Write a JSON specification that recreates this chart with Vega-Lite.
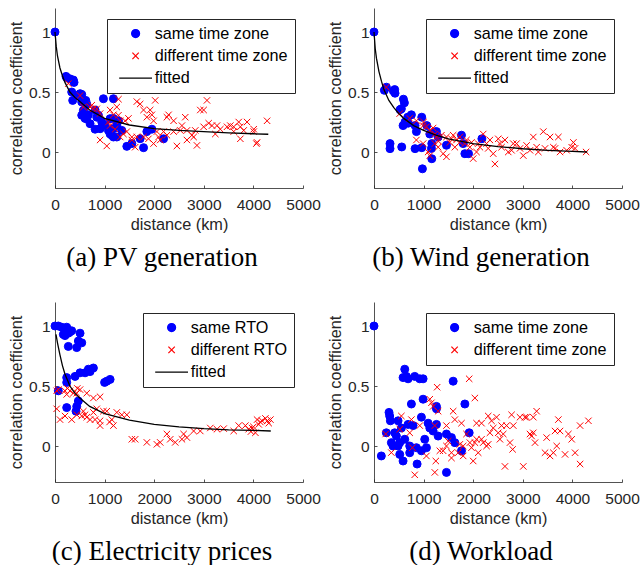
{
"$schema": "https://vega.github.io/schema/vega-lite/v6.json",
"background": "white",
"padding": {"left": 8, "top": 8, "right": 0, "bottom": 0},
"datasets": {
"a": [
{"x":0,"y":1.0,"s":"same time zone"},{"x":222,"y":0.63,"s":"same time zone"},{"x":236,"y":0.62,"s":"same time zone"},{"x":300,"y":0.61,"s":"same time zone"},{"x":370,"y":0.6,"s":"same time zone"},{"x":384,"y":0.58,"s":"same time zone"},{"x":337,"y":0.5,"s":"same time zone"},{"x":357,"y":0.43,"s":"same time zone"},{"x":438,"y":0.47,"s":"same time zone"},{"x":505,"y":0.486,"s":"same time zone"},{"x":539,"y":0.48,"s":"same time zone"},{"x":539,"y":0.417,"s":"same time zone"},{"x":620,"y":0.43,"s":"same time zone"},{"x":640,"y":0.4,"s":"same time zone"},{"x":572,"y":0.347,"s":"same time zone"},{"x":539,"y":0.306,"s":"same time zone"},{"x":606,"y":0.28,"s":"same time zone"},{"x":640,"y":0.278,"s":"same time zone"},{"x":673,"y":0.31,"s":"same time zone"},{"x":707,"y":0.236,"s":"same time zone"},{"x":808,"y":0.35,"s":"same time zone"},{"x":842,"y":0.29,"s":"same time zone"},{"x":875,"y":0.306,"s":"same time zone"},{"x":976,"y":0.444,"s":"same time zone"},{"x":1178,"y":0.444,"s":"same time zone"},{"x":943,"y":0.25,"s":"same time zone"},{"x":909,"y":0.194,"s":"same time zone"},{"x":808,"y":0.19,"s":"same time zone"},{"x":1010,"y":0.222,"s":"same time zone"},{"x":1077,"y":0.18,"s":"same time zone"},{"x":1111,"y":0.15,"s":"same time zone"},{"x":1178,"y":0.194,"s":"same time zone"},{"x":1145,"y":0.139,"s":"same time zone"},{"x":1178,"y":0.125,"s":"same time zone"},{"x":1246,"y":0.222,"s":"same time zone"},{"x":1280,"y":0.26,"s":"same time zone"},{"x":1178,"y":0.28,"s":"same time zone"},{"x":1111,"y":0.278,"s":"same time zone"},{"x":1246,"y":0.125,"s":"same time zone"},{"x":1347,"y":0.18,"s":"same time zone"},{"x":1448,"y":0.047,"s":"same time zone"},{"x":1549,"y":0.07,"s":"same time zone"},{"x":1717,"y":0.111,"s":"same time zone"},{"x":1785,"y":0.036,"s":"same time zone"},{"x":1852,"y":0.17,"s":"same time zone"},{"x":1953,"y":0.19,"s":"same time zone"},{"x":2189,"y":0.11,"s":"same time zone"},
{"x":269,"y":0.57,"s":"different time zone"},{"x":505,"y":0.47,"s":"different time zone"},{"x":572,"y":0.375,"s":"different time zone"},{"x":707,"y":0.375,"s":"different time zone"},{"x":741,"y":0.39,"s":"different time zone"},{"x":774,"y":0.36,"s":"different time zone"},{"x":842,"y":0.36,"s":"different time zone"},{"x":909,"y":0.32,"s":"different time zone"},{"x":909,"y":0.1,"s":"different time zone"},{"x":1044,"y":0.05,"s":"different time zone"},{"x":1077,"y":0.25,"s":"different time zone"},{"x":1111,"y":0.35,"s":"different time zone"},{"x":1178,"y":0.31,"s":"different time zone"},{"x":1246,"y":0.375,"s":"different time zone"},{"x":1279,"y":0.306,"s":"different time zone"},{"x":1280,"y":0.44,"s":"different time zone"},{"x":1313,"y":0.26,"s":"different time zone"},{"x":1414,"y":0.26,"s":"different time zone"},{"x":1481,"y":0.28,"s":"different time zone"},{"x":1380,"y":0.15,"s":"different time zone"},{"x":1549,"y":0.125,"s":"different time zone"},{"x":1616,"y":0.04,"s":"different time zone"},{"x":1650,"y":0.42,"s":"different time zone"},{"x":1717,"y":0.4,"s":"different time zone"},{"x":1785,"y":0.35,"s":"different time zone"},{"x":1852,"y":0.29,"s":"different time zone"},{"x":1919,"y":0.35,"s":"different time zone"},{"x":1953,"y":0.31,"s":"different time zone"},{"x":2020,"y":0.43,"s":"different time zone"},{"x":1987,"y":0.26,"s":"different time zone"},{"x":2054,"y":0.17,"s":"different time zone"},{"x":2121,"y":0.1,"s":"different time zone"},{"x":2189,"y":0.17,"s":"different time zone"},{"x":2256,"y":0.29,"s":"different time zone"},{"x":2290,"y":0.31,"s":"different time zone"},{"x":2391,"y":0.26,"s":"different time zone"},{"x":2458,"y":0.05,"s":"different time zone"},{"x":2525,"y":0.18,"s":"different time zone"},{"x":2559,"y":0.22,"s":"different time zone"},{"x":2626,"y":0.29,"s":"different time zone"},{"x":2660,"y":0.1,"s":"different time zone"},{"x":2761,"y":0.14,"s":"different time zone"},{"x":2828,"y":0.18,"s":"different time zone"},{"x":2862,"y":0.055,"s":"different time zone"},{"x":2929,"y":0.35,"s":"different time zone"},{"x":2997,"y":0.35,"s":"different time zone"},{"x":3064,"y":0.43,"s":"different time zone"},{"x":3098,"y":0.24,"s":"different time zone"},{"x":3165,"y":0.22,"s":"different time zone"},{"x":3232,"y":0.15,"s":"different time zone"},{"x":3333,"y":0.19,"s":"different time zone"},{"x":3468,"y":0.21,"s":"different time zone"},{"x":3535,"y":0.22,"s":"different time zone"},{"x":3603,"y":0.21,"s":"different time zone"},{"x":3704,"y":0.25,"s":"different time zone"},{"x":3737,"y":0.21,"s":"different time zone"},{"x":3737,"y":0.11,"s":"different time zone"},{"x":3872,"y":0.25,"s":"different time zone"},{"x":4007,"y":0.19,"s":"different time zone"},{"x":4074,"y":0.08,"s":"different time zone"},{"x":4060,"y":0.07,"s":"different time zone"},{"x":4276,"y":0.26,"s":"different time zone"},{"x":1111,"y":0.22,"s":"different time zone"},{"x":1212,"y":0.19,"s":"different time zone"},{"x":1313,"y":0.125,"s":"different time zone"},{"x":1448,"y":0.17,"s":"different time zone"},{"x":1549,"y":0.1,"s":"different time zone"},{"x":1650,"y":0.125,"s":"different time zone"},{"x":1785,"y":0.125,"s":"different time zone"},{"x":1885,"y":0.11,"s":"different time zone"},{"x":1987,"y":0.07,"s":"different time zone"},{"x":2088,"y":0.125,"s":"different time zone"},{"x":2256,"y":0.14,"s":"different time zone"},{"x":2391,"y":0.17,"s":"different time zone"},{"x":2660,"y":0.18,"s":"different time zone"},{"x":2795,"y":0.125,"s":"different time zone"},{"x":2997,"y":0.21,"s":"different time zone"},{"x":3266,"y":0.22,"s":"different time zone"},{"x":3603,"y":0.17,"s":"different time zone"},{"x":3805,"y":0.18,"s":"different time zone"},{"x":4007,"y":0.17,"s":"different time zone"}
],
"fa": [
{"x":0,"y":1.0},{"x":25,"y":0.88},{"x":50,"y":0.8},{"x":100,"y":0.7},{"x":150,"y":0.635},{"x":200,"y":0.58},{"x":300,"y":0.5},{"x":400,"y":0.455},{"x":500,"y":0.42},{"x":700,"y":0.35},{"x":1000,"y":0.28},{"x":1500,"y":0.225},{"x":2000,"y":0.195},{"x":2500,"y":0.18},{"x":3000,"y":0.17},{"x":3500,"y":0.16},{"x":4000,"y":0.152},{"x":4300,"y":0.148}
],
"b": [
{"x":0,"y":1.0,"s":"same time zone"},{"x":209,"y":0.514,"s":"same time zone"},{"x":249,"y":0.54,"s":"same time zone"},{"x":391,"y":0.508,"s":"same time zone"},{"x":424,"y":0.49,"s":"same time zone"},{"x":417,"y":0.52,"s":"same time zone"},{"x":593,"y":0.44,"s":"same time zone"},{"x":613,"y":0.41,"s":"same time zone"},{"x":525,"y":0.353,"s":"same time zone"},{"x":552,"y":0.36,"s":"same time zone"},{"x":626,"y":0.25,"s":"same time zone"},{"x":586,"y":0.22,"s":"same time zone"},{"x":680,"y":0.29,"s":"same time zone"},{"x":687,"y":0.24,"s":"same time zone"},{"x":754,"y":0.31,"s":"same time zone"},{"x":963,"y":0.29,"s":"same time zone"},{"x":828,"y":0.22,"s":"same time zone"},{"x":855,"y":0.17,"s":"same time zone"},{"x":1064,"y":0.22,"s":"same time zone"},{"x":323,"y":0.07,"s":"same time zone"},{"x":323,"y":0.028,"s":"same time zone"},{"x":559,"y":0.042,"s":"same time zone"},{"x":828,"y":0.028,"s":"same time zone"},{"x":963,"y":0.036,"s":"same time zone"},{"x":1165,"y":-0.056,"s":"same time zone"},{"x":976,"y":-0.14,"s":"same time zone"},{"x":1125,"y":0.15,"s":"same time zone"},{"x":1165,"y":0.07,"s":"same time zone"},{"x":1232,"y":0.167,"s":"same time zone"},{"x":1293,"y":0.125,"s":"same time zone"},{"x":1461,"y":0.056,"s":"same time zone"},{"x":1764,"y":0.14,"s":"same time zone"},{"x":1798,"y":0.07,"s":"same time zone"},{"x":1832,"y":-0.014,"s":"same time zone"},{"x":1906,"y":-0.014,"s":"same time zone"},{"x":2175,"y":0.11,"s":"same time zone"},{"x":1158,"y":0.03,"s":"same time zone"},{"x":1259,"y":0.17,"s":"same time zone"},
{"x":249,"y":0.54,"s":"different time zone"},{"x":518,"y":0.32,"s":"different time zone"},{"x":720,"y":0.28,"s":"different time zone"},{"x":855,"y":0.26,"s":"different time zone"},{"x":990,"y":0.22,"s":"different time zone"},{"x":1057,"y":0.21,"s":"different time zone"},{"x":1125,"y":0.18,"s":"different time zone"},{"x":1226,"y":0.15,"s":"different time zone"},{"x":855,"y":0.1,"s":"different time zone"},{"x":990,"y":0.07,"s":"different time zone"},{"x":1091,"y":0.0,"s":"different time zone"},{"x":1125,"y":-0.03,"s":"different time zone"},{"x":1226,"y":0.07,"s":"different time zone"},{"x":1293,"y":0.04,"s":"different time zone"},{"x":1394,"y":-0.014,"s":"different time zone"},{"x":1461,"y":-0.04,"s":"different time zone"},{"x":1562,"y":0.11,"s":"different time zone"},{"x":1596,"y":0.14,"s":"different time zone"},{"x":1663,"y":0.1,"s":"different time zone"},{"x":1731,"y":0.125,"s":"different time zone"},{"x":1832,"y":0.07,"s":"different time zone"},{"x":1933,"y":0.04,"s":"different time zone"},{"x":2000,"y":-0.055,"s":"different time zone"},{"x":2067,"y":0.0,"s":"different time zone"},{"x":2135,"y":0.04,"s":"different time zone"},{"x":2202,"y":0.15,"s":"different time zone"},{"x":2269,"y":0.07,"s":"different time zone"},{"x":2337,"y":0.1,"s":"different time zone"},{"x":2404,"y":-0.014,"s":"different time zone"},{"x":2438,"y":-0.1,"s":"different time zone"},{"x":2505,"y":0.11,"s":"different time zone"},{"x":2572,"y":0.04,"s":"different time zone"},{"x":2640,"y":0.1,"s":"different time zone"},{"x":2707,"y":0.0,"s":"different time zone"},{"x":2808,"y":0.07,"s":"different time zone"},{"x":2875,"y":0.07,"s":"different time zone"},{"x":2943,"y":0.03,"s":"different time zone"},{"x":3010,"y":-0.03,"s":"different time zone"},{"x":3077,"y":0.055,"s":"different time zone"},{"x":3145,"y":0.014,"s":"different time zone"},{"x":3212,"y":0.125,"s":"different time zone"},{"x":3313,"y":0.0,"s":"different time zone"},{"x":3414,"y":0.17,"s":"different time zone"},{"x":3448,"y":0.03,"s":"different time zone"},{"x":3549,"y":0.125,"s":"different time zone"},{"x":3616,"y":0.04,"s":"different time zone"},{"x":3717,"y":0.125,"s":"different time zone"},{"x":3751,"y":0.0,"s":"different time zone"},{"x":3885,"y":0.014,"s":"different time zone"},{"x":3986,"y":0.04,"s":"different time zone"},{"x":4020,"y":0.08,"s":"different time zone"},{"x":4054,"y":0.03,"s":"different time zone"},{"x":4276,"y":0.0,"s":"different time zone"},{"x":1259,"y":0.125,"s":"different time zone"},{"x":1360,"y":0.14,"s":"different time zone"},{"x":1461,"y":0.125,"s":"different time zone"},{"x":1529,"y":0.08,"s":"different time zone"},{"x":1630,"y":0.04,"s":"different time zone"},{"x":1731,"y":0.08,"s":"different time zone"},{"x":1865,"y":0.1,"s":"different time zone"},{"x":1966,"y":0.08,"s":"different time zone"},{"x":2101,"y":0.07,"s":"different time zone"},{"x":2303,"y":0.03,"s":"different time zone"},{"x":2539,"y":0.07,"s":"different time zone"},{"x":2774,"y":0.014,"s":"different time zone"},{"x":3279,"y":0.04,"s":"different time zone"},{"x":3650,"y":0.03,"s":"different time zone"},{"x":1192,"y":0.2,"s":"different time zone"},{"x":1000,"y":0.25,"s":"different time zone"},{"x":1300,"y":0.09,"s":"different time zone"}
],
"fb": [
{"x":0,"y":1.0},{"x":25,"y":0.86},{"x":50,"y":0.78},{"x":100,"y":0.67},{"x":150,"y":0.59},{"x":200,"y":0.52},{"x":300,"y":0.43},{"x":400,"y":0.37},{"x":500,"y":0.32},{"x":600,"y":0.28},{"x":800,"y":0.22},{"x":1000,"y":0.18},{"x":1250,"y":0.14},{"x":1500,"y":0.11},{"x":2000,"y":0.07},{"x":2500,"y":0.045},{"x":3000,"y":0.027},{"x":3500,"y":0.014},{"x":4000,"y":0.005},{"x":4300,"y":0.0}
],
"c": [
{"x":0,"y":1.0,"s":"same RTO"},{"x":67,"y":1.0,"s":"same RTO"},{"x":135,"y":0.99,"s":"same RTO"},{"x":202,"y":0.97,"s":"same RTO"},{"x":236,"y":0.99,"s":"same RTO"},{"x":168,"y":0.93,"s":"same RTO"},{"x":269,"y":0.94,"s":"same RTO"},{"x":337,"y":0.96,"s":"same RTO"},{"x":202,"y":0.92,"s":"same RTO"},{"x":300,"y":0.95,"s":"same RTO"},{"x":505,"y":0.94,"s":"same RTO"},{"x":471,"y":0.875,"s":"same RTO"},{"x":539,"y":0.86,"s":"same RTO"},{"x":438,"y":0.82,"s":"same RTO"},{"x":269,"y":0.83,"s":"same RTO"},{"x":236,"y":0.57,"s":"same RTO"},{"x":236,"y":0.53,"s":"same RTO"},{"x":404,"y":0.58,"s":"same RTO"},{"x":505,"y":0.61,"s":"same RTO"},{"x":606,"y":0.61,"s":"same RTO"},{"x":673,"y":0.64,"s":"same RTO"},{"x":774,"y":0.65,"s":"same RTO"},{"x":707,"y":0.62,"s":"same RTO"},{"x":1000,"y":0.53,"s":"same RTO"},{"x":1044,"y":0.54,"s":"same RTO"},{"x":1111,"y":0.555,"s":"same RTO"},{"x":67,"y":0.46,"s":"same RTO"},{"x":236,"y":0.32,"s":"same RTO"},{"x":438,"y":0.33,"s":"same RTO"},{"x":471,"y":0.375,"s":"same RTO"},{"x":424,"y":0.29,"s":"same RTO"},
{"x":34,"y":0.46,"s":"different RTO"},{"x":34,"y":0.31,"s":"different RTO"},{"x":101,"y":0.22,"s":"different RTO"},{"x":202,"y":0.25,"s":"different RTO"},{"x":303,"y":0.46,"s":"different RTO"},{"x":370,"y":0.44,"s":"different RTO"},{"x":505,"y":0.47,"s":"different RTO"},{"x":640,"y":0.44,"s":"different RTO"},{"x":774,"y":0.4,"s":"different RTO"},{"x":909,"y":0.41,"s":"different RTO"},{"x":337,"y":0.22,"s":"different RTO"},{"x":438,"y":0.26,"s":"different RTO"},{"x":539,"y":0.25,"s":"different RTO"},{"x":640,"y":0.24,"s":"different RTO"},{"x":774,"y":0.28,"s":"different RTO"},{"x":808,"y":0.22,"s":"different RTO"},{"x":909,"y":0.21,"s":"different RTO"},{"x":976,"y":0.29,"s":"different RTO"},{"x":1044,"y":0.29,"s":"different RTO"},{"x":1145,"y":0.22,"s":"different RTO"},{"x":1178,"y":0.17,"s":"different RTO"},{"x":1246,"y":0.28,"s":"different RTO"},{"x":1347,"y":0.26,"s":"different RTO"},{"x":1448,"y":0.26,"s":"different RTO"},{"x":1549,"y":0.056,"s":"different RTO"},{"x":1616,"y":0.056,"s":"different RTO"},{"x":1852,"y":0.03,"s":"different RTO"},{"x":2054,"y":0.014,"s":"different RTO"},{"x":2121,"y":0.03,"s":"different RTO"},{"x":2256,"y":0.1,"s":"different RTO"},{"x":2323,"y":0.056,"s":"different RTO"},{"x":2424,"y":0.03,"s":"different RTO"},{"x":2559,"y":0.056,"s":"different RTO"},{"x":2593,"y":0.1,"s":"different RTO"},{"x":2660,"y":0.07,"s":"different RTO"},{"x":2795,"y":0.125,"s":"different RTO"},{"x":2929,"y":0.125,"s":"different RTO"},{"x":3131,"y":0.15,"s":"different RTO"},{"x":3266,"y":0.14,"s":"different RTO"},{"x":3401,"y":0.145,"s":"different RTO"},{"x":3603,"y":0.125,"s":"different RTO"},{"x":3704,"y":0.17,"s":"different RTO"},{"x":3838,"y":0.17,"s":"different RTO"},{"x":3905,"y":0.14,"s":"different RTO"},{"x":3973,"y":0.15,"s":"different RTO"},{"x":4040,"y":0.11,"s":"different RTO"},{"x":4074,"y":0.22,"s":"different RTO"},{"x":4108,"y":0.18,"s":"different RTO"},{"x":4175,"y":0.21,"s":"different RTO"},{"x":4242,"y":0.23,"s":"different RTO"},{"x":4310,"y":0.19,"s":"different RTO"},{"x":4343,"y":0.22,"s":"different RTO"},{"x":67,"y":0.47,"s":"different RTO"},{"x":236,"y":0.43,"s":"different RTO"},{"x":438,"y":0.44,"s":"different RTO"},{"x":572,"y":0.29,"s":"different RTO"},{"x":606,"y":0.26,"s":"different RTO"},{"x":707,"y":0.22,"s":"different RTO"},{"x":842,"y":0.31,"s":"different RTO"},{"x":909,"y":0.17,"s":"different RTO"},{"x":4000,"y":0.16,"s":"different RTO"},{"x":4140,"y":0.2,"s":"different RTO"},{"x":4280,"y":0.21,"s":"different RTO"},{"x":3950,"y":0.12,"s":"different RTO"},{"x":1100,"y":0.2,"s":"different RTO"},{"x":200,"y":0.46,"s":"different RTO"},{"x":250,"y":0.48,"s":"different RTO"},{"x":450,"y":0.48,"s":"different RTO"}
],
"fc": [
{"x":20,"y":0.93},{"x":50,"y":0.86},{"x":100,"y":0.76},{"x":150,"y":0.67},{"x":200,"y":0.6},{"x":300,"y":0.5},{"x":400,"y":0.44},{"x":500,"y":0.4},{"x":700,"y":0.33},{"x":1000,"y":0.27},{"x":1500,"y":0.215},{"x":2000,"y":0.18},{"x":2500,"y":0.16},{"x":3000,"y":0.145},{"x":3500,"y":0.135},{"x":4000,"y":0.13},{"x":4350,"y":0.125}
],
"d": [
{"x":0,"y":1.0,"s":"same time zone"},{"x":148,"y":-0.083,"s":"same time zone"},{"x":249,"y":0.11,"s":"same time zone"},{"x":303,"y":0.28,"s":"same time zone"},{"x":316,"y":0.25,"s":"same time zone"},{"x":330,"y":0.21,"s":"same time zone"},{"x":350,"y":0.028,"s":"same time zone"},{"x":384,"y":0.0,"s":"same time zone"},{"x":451,"y":0.083,"s":"same time zone"},{"x":485,"y":0.21,"s":"same time zone"},{"x":485,"y":0.0,"s":"same time zone"},{"x":519,"y":-0.07,"s":"same time zone"},{"x":552,"y":0.15,"s":"same time zone"},{"x":586,"y":-0.125,"s":"same time zone"},{"x":620,"y":0.056,"s":"same time zone"},{"x":620,"y":0.64,"s":"same time zone"},{"x":654,"y":0.58,"s":"same time zone"},{"x":687,"y":0.56,"s":"same time zone"},{"x":586,"y":0.57,"s":"same time zone"},{"x":687,"y":0.18,"s":"same time zone"},{"x":720,"y":-0.056,"s":"same time zone"},{"x":754,"y":0.35,"s":"same time zone"},{"x":788,"y":0.17,"s":"same time zone"},{"x":821,"y":0.58,"s":"same time zone"},{"x":869,"y":-0.15,"s":"same time zone"},{"x":923,"y":0.56,"s":"same time zone"},{"x":990,"y":0.56,"s":"same time zone"},{"x":956,"y":0.24,"s":"same time zone"},{"x":956,"y":-0.04,"s":"same time zone"},{"x":990,"y":0.39,"s":"same time zone"},{"x":1023,"y":0.056,"s":"same time zone"},{"x":1091,"y":0.19,"s":"same time zone"},{"x":1125,"y":0.15,"s":"same time zone"},{"x":1192,"y":0.125,"s":"same time zone"},{"x":1259,"y":0.31,"s":"same time zone"},{"x":1259,"y":0.18,"s":"same time zone"},{"x":1293,"y":0.083,"s":"same time zone"},{"x":1259,"y":0.33,"s":"same time zone"},{"x":1461,"y":0.1,"s":"same time zone"},{"x":1461,"y":-0.22,"s":"same time zone"},{"x":1562,"y":0.07,"s":"same time zone"},{"x":1596,"y":0.54,"s":"same time zone"},{"x":1630,"y":0.028,"s":"same time zone"},{"x":1764,"y":-0.04,"s":"same time zone"},{"x":1832,"y":0.35,"s":"same time zone"},{"x":1919,"y":0.11,"s":"same time zone"},{"x":720,"y":0.0,"s":"same time zone"},{"x":855,"y":-0.014,"s":"same time zone"},{"x":1057,"y":-0.014,"s":"same time zone"},{"x":519,"y":0.028,"s":"same time zone"},{"x":417,"y":0.11,"s":"same time zone"},
{"x":236,"y":0.1,"s":"different time zone"},{"x":350,"y":-0.055,"s":"different time zone"},{"x":552,"y":0.25,"s":"different time zone"},{"x":519,"y":0.14,"s":"different time zone"},{"x":720,"y":0.11,"s":"different time zone"},{"x":754,"y":0.22,"s":"different time zone"},{"x":774,"y":-0.014,"s":"different time zone"},{"x":821,"y":-0.24,"s":"different time zone"},{"x":923,"y":0.17,"s":"different time zone"},{"x":1057,"y":-0.083,"s":"different time zone"},{"x":1125,"y":0.39,"s":"different time zone"},{"x":1158,"y":0.36,"s":"different time zone"},{"x":1192,"y":0.33,"s":"different time zone"},{"x":1226,"y":-0.22,"s":"different time zone"},{"x":1246,"y":-0.125,"s":"different time zone"},{"x":1273,"y":0.49,"s":"different time zone"},{"x":1293,"y":0.29,"s":"different time zone"},{"x":1226,"y":0.17,"s":"different time zone"},{"x":1327,"y":-0.04,"s":"different time zone"},{"x":1394,"y":-0.04,"s":"different time zone"},{"x":1461,"y":0.17,"s":"different time zone"},{"x":1495,"y":0.04,"s":"different time zone"},{"x":1562,"y":-0.1,"s":"different time zone"},{"x":1596,"y":0.29,"s":"different time zone"},{"x":1630,"y":0.22,"s":"different time zone"},{"x":1697,"y":-0.056,"s":"different time zone"},{"x":1764,"y":0.19,"s":"different time zone"},{"x":1798,"y":-0.083,"s":"different time zone"},{"x":1865,"y":0.1,"s":"different time zone"},{"x":1919,"y":0.56,"s":"different time zone"},{"x":1933,"y":0.028,"s":"different time zone"},{"x":2000,"y":-0.125,"s":"different time zone"},{"x":2034,"y":0.4,"s":"different time zone"},{"x":2067,"y":0.19,"s":"different time zone"},{"x":2067,"y":0.056,"s":"different time zone"},{"x":2101,"y":-0.056,"s":"different time zone"},{"x":2168,"y":0.19,"s":"different time zone"},{"x":2202,"y":0.028,"s":"different time zone"},{"x":2269,"y":0.0,"s":"different time zone"},{"x":2303,"y":0.25,"s":"different time zone"},{"x":2337,"y":0.11,"s":"different time zone"},{"x":2370,"y":0.21,"s":"different time zone"},{"x":2404,"y":0.15,"s":"different time zone"},{"x":2471,"y":0.24,"s":"different time zone"},{"x":2505,"y":0.11,"s":"different time zone"},{"x":2539,"y":0.056,"s":"different time zone"},{"x":2572,"y":0.17,"s":"different time zone"},{"x":2606,"y":0.1,"s":"different time zone"},{"x":2640,"y":-0.17,"s":"different time zone"},{"x":2673,"y":0.17,"s":"different time zone"},{"x":2741,"y":0.028,"s":"different time zone"},{"x":2774,"y":0.26,"s":"different time zone"},{"x":2808,"y":0.17,"s":"different time zone"},{"x":2795,"y":-0.028,"s":"different time zone"},{"x":2943,"y":0.24,"s":"different time zone"},{"x":3010,"y":-0.17,"s":"different time zone"},{"x":3044,"y":0.24,"s":"different time zone"},{"x":3077,"y":0.24,"s":"different time zone"},{"x":3145,"y":0.1,"s":"different time zone"},{"x":3178,"y":0.083,"s":"different time zone"},{"x":3212,"y":0.11,"s":"different time zone"},{"x":3246,"y":0.028,"s":"different time zone"},{"x":3279,"y":0.29,"s":"different time zone"},{"x":3212,"y":0.24,"s":"different time zone"},{"x":3481,"y":0.07,"s":"different time zone"},{"x":3448,"y":-0.056,"s":"different time zone"},{"x":3549,"y":-0.083,"s":"different time zone"},{"x":3616,"y":-0.056,"s":"different time zone"},{"x":3650,"y":0.125,"s":"different time zone"},{"x":3684,"y":0.0,"s":"different time zone"},{"x":3717,"y":0.22,"s":"different time zone"},{"x":3751,"y":0.125,"s":"different time zone"},{"x":3852,"y":-0.07,"s":"different time zone"},{"x":3919,"y":0.1,"s":"different time zone"},{"x":3986,"y":0.056,"s":"different time zone"},{"x":4054,"y":-0.056,"s":"different time zone"},{"x":4155,"y":-0.15,"s":"different time zone"},{"x":4155,"y":0.17,"s":"different time zone"},{"x":4323,"y":0.21,"s":"different time zone"},{"x":1461,"y":0.0,"s":"different time zone"},{"x":1731,"y":0.014,"s":"different time zone"},{"x":1798,"y":0.0,"s":"different time zone"},{"x":1966,"y":-0.014,"s":"different time zone"},{"x":2034,"y":0.028,"s":"different time zone"},{"x":2168,"y":0.056,"s":"different time zone"},{"x":2303,"y":0.014,"s":"different time zone"},{"x":1562,"y":-0.056,"s":"different time zone"}
]
},
"vconcat": [
{"hconcat": [
{"width": 248, "height": 180,
 "title": {"text": "(a) PV generation", "orient": "bottom", "anchor": "middle", "frame": "group", "dx": -17, "offset": 13},
 "layer": [
  {"data": {"name": "a"}, "mark": {"type": "point", "filled": false, "size": 64, "strokeWidth": 1, "opacity": 1},
   "encoding": {
    "x": {"field": "x", "type": "quantitative", "title": "distance (km)", "scale": {"domain": [0, 5000], "nice": false}, "axis": {"values": [0,1000,2000,3000,4000,5000], "format": "d", "labelOverlap": false, "labelFlush": false}},
    "y": {"field": "y", "type": "quantitative", "title": "correlation coefficient", "scale": {"domain": [-0.3, 1.2], "nice": false, "zero": false}, "axis": {"values": [0, 0.5, 1], "format": "~g", "labelOverlap": false, "labelFlush": false}},
    "stroke": {"field": "s", "type": "nominal", "scale": {"domain": ["same time zone", "different time zone", "fitted"], "range": ["#0000ff", "#ff0000", "#000000"]}, "legend": {"orient": "none", "legendX": 52, "legendY": 11, "title": null, "labelExpr": "datum.label + '\u00a0\u00a0'"}},
    "fill": {"field": "s", "type": "nominal", "scale": {"domain": ["same time zone", "different time zone", "fitted"], "range": ["#0000ff", "transparent", "transparent"]}, "legend": {"orient": "none", "legendX": 52, "legendY": 11, "title": null, "labelExpr": "datum.label + '\u00a0\u00a0'"}},
    "shape": {"field": "s", "type": "nominal", "scale": {"domain": ["same time zone", "different time zone", "fitted"], "range": ["circle", "M-0.8,-0.8L0.8,0.8M-0.8,0.8L0.8,-0.8", "M-4.1,0L4.1,0"]}, "legend": {"orient": "none", "legendX": 52, "legendY": 11, "title": null, "labelExpr": "datum.label + '\u00a0\u00a0'"}}
   }},
  {"data": {"name": "fa"}, "mark": {"type": "line", "color": "#000000", "strokeWidth": 1.3},
   "encoding": {"x": {"field": "x", "type": "quantitative"}, "y": {"field": "y", "type": "quantitative"}}}
 ]},
{"width": 248, "height": 180,
 "title": {"text": "(b) Wind generation", "orient": "bottom", "anchor": "middle", "frame": "group", "dx": -17, "offset": 13},
 "layer": [
  {"data": {"name": "b"}, "mark": {"type": "point", "filled": false, "size": 64, "strokeWidth": 1, "opacity": 1},
   "encoding": {
    "x": {"field": "x", "type": "quantitative", "title": "distance (km)", "scale": {"domain": [0, 5000], "nice": false}, "axis": {"values": [0,1000,2000,3000,4000,5000], "format": "d", "labelOverlap": false, "labelFlush": false}},
    "y": {"field": "y", "type": "quantitative", "title": "correlation coefficient", "scale": {"domain": [-0.3, 1.2], "nice": false, "zero": false}, "axis": {"values": [0, 0.5, 1], "format": "~g", "labelOverlap": false, "labelFlush": false}},
    "stroke": {"field": "s", "type": "nominal", "scale": {"domain": ["same time zone", "different time zone", "fitted"], "range": ["#0000ff", "#ff0000", "#000000"]}, "legend": {"orient": "none", "legendX": 52, "legendY": 11, "title": null, "labelExpr": "datum.label + '\u00a0\u00a0'"}},
    "fill": {"field": "s", "type": "nominal", "scale": {"domain": ["same time zone", "different time zone", "fitted"], "range": ["#0000ff", "transparent", "transparent"]}, "legend": {"orient": "none", "legendX": 52, "legendY": 11, "title": null, "labelExpr": "datum.label + '\u00a0\u00a0'"}},
    "shape": {"field": "s", "type": "nominal", "scale": {"domain": ["same time zone", "different time zone", "fitted"], "range": ["circle", "M-0.8,-0.8L0.8,0.8M-0.8,0.8L0.8,-0.8", "M-4.1,0L4.1,0"]}, "legend": {"orient": "none", "legendX": 52, "legendY": 11, "title": null, "labelExpr": "datum.label + '\u00a0\u00a0'"}}
   }},
  {"data": {"name": "fb"}, "mark": {"type": "line", "color": "#000000", "strokeWidth": 1.3},
   "encoding": {"x": {"field": "x", "type": "quantitative"}, "y": {"field": "y", "type": "quantitative"}}}
 ]}
], "spacing": 6,
 "resolve": {"scale": {"x": "independent", "y": "independent", "stroke": "independent", "fill": "independent", "shape": "independent"}, "legend": {"stroke": "independent", "fill": "independent", "shape": "independent"}}},
{"hconcat": [
{"width": 248, "height": 180,
 "title": {"text": "(c) Electricity prices", "orient": "bottom", "anchor": "middle", "frame": "group", "dx": -17, "offset": 13},
 "layer": [
  {"data": {"name": "c"}, "mark": {"type": "point", "filled": false, "size": 64, "strokeWidth": 1, "opacity": 1},
   "encoding": {
    "x": {"field": "x", "type": "quantitative", "title": "distance (km)", "scale": {"domain": [0, 5000], "nice": false}, "axis": {"values": [0,1000,2000,3000,4000,5000], "format": "d", "labelOverlap": false, "labelFlush": false}},
    "y": {"field": "y", "type": "quantitative", "title": "correlation coefficient", "scale": {"domain": [-0.3, 1.2], "nice": false, "zero": false}, "axis": {"values": [0, 0.5, 1], "format": "~g", "labelOverlap": false, "labelFlush": false}},
    "stroke": {"field": "s", "type": "nominal", "scale": {"domain": ["same RTO", "different RTO", "fitted"], "range": ["#0000ff", "#ff0000", "#000000"]}, "legend": {"orient": "none", "legendX": 88, "legendY": 11, "title": null, "labelExpr": "datum.label + '\u00a0\u00a0'"}},
    "fill": {"field": "s", "type": "nominal", "scale": {"domain": ["same RTO", "different RTO", "fitted"], "range": ["#0000ff", "transparent", "transparent"]}, "legend": {"orient": "none", "legendX": 88, "legendY": 11, "title": null, "labelExpr": "datum.label + '\u00a0\u00a0'"}},
    "shape": {"field": "s", "type": "nominal", "scale": {"domain": ["same RTO", "different RTO", "fitted"], "range": ["circle", "M-0.8,-0.8L0.8,0.8M-0.8,0.8L0.8,-0.8", "M-4.1,0L4.1,0"]}, "legend": {"orient": "none", "legendX": 88, "legendY": 11, "title": null, "labelExpr": "datum.label + '\u00a0\u00a0'"}}
   }},
  {"data": {"name": "fc"}, "mark": {"type": "line", "color": "#000000", "strokeWidth": 1.3},
   "encoding": {"x": {"field": "x", "type": "quantitative"}, "y": {"field": "y", "type": "quantitative"}}}
 ]},
{"width": 248, "height": 180,
 "title": {"text": "(d) Workload", "orient": "bottom", "anchor": "middle", "frame": "group", "dx": -17, "offset": 13},
 "layer": [
  {"data": {"name": "d"}, "mark": {"type": "point", "filled": false, "size": 64, "strokeWidth": 1, "opacity": 1},
   "encoding": {
    "x": {"field": "x", "type": "quantitative", "title": "distance (km)", "scale": {"domain": [0, 5000], "nice": false}, "axis": {"values": [0,1000,2000,3000,4000,5000], "format": "d", "labelOverlap": false, "labelFlush": false}},
    "y": {"field": "y", "type": "quantitative", "title": "correlation coefficient", "scale": {"domain": [-0.3, 1.2], "nice": false, "zero": false}, "axis": {"values": [0, 0.5, 1], "format": "~g", "labelOverlap": false, "labelFlush": false}},
    "stroke": {"field": "s", "type": "nominal", "scale": {"domain": ["same time zone", "different time zone"], "range": ["#0000ff", "#ff0000"]}, "legend": {"orient": "none", "legendX": 52, "legendY": 11, "title": null}},
    "fill": {"field": "s", "type": "nominal", "scale": {"domain": ["same time zone", "different time zone"], "range": ["#0000ff", "transparent"]}, "legend": {"orient": "none", "legendX": 52, "legendY": 11, "title": null}},
    "shape": {"field": "s", "type": "nominal", "scale": {"domain": ["same time zone", "different time zone"], "range": ["circle", "M-0.8,-0.8L0.8,0.8M-0.8,0.8L0.8,-0.8"]}, "legend": {"orient": "none", "legendX": 52, "legendY": 11, "title": null}}
   }}
 ]}
], "spacing": 6,
 "resolve": {"scale": {"x": "independent", "y": "independent", "stroke": "independent", "fill": "independent", "shape": "independent"}, "legend": {"stroke": "independent", "fill": "independent", "shape": "independent"}}}
],
"spacing": 30,
"resolve": {"scale": {"x": "independent", "y": "independent", "stroke": "independent", "fill": "independent", "shape": "independent"}, "legend": {"stroke": "independent", "fill": "independent", "shape": "independent"}},
"config": {
 "view": {"stroke": null},
 "axis": {"grid": false, "domainColor": "#262626", "domainWidth": 0.8, "tickColor": "#262626", "tickWidth": 0.8, "tickSize": -3, "labelFont": "Liberation Sans", "labelFontSize": 15.5, "labelColor": "#262626", "titleFont": "Liberation Sans", "titleFontSize": 16.3, "titleFontWeight": "normal", "titleColor": "#262626"},
 "axisX": {"labelPadding": 12, "titlePadding": 3.5},
 "axisY": {"labelPadding": 8, "titlePadding": 4.4},
 "legend": {"padding": 6.5, "symbolOffset": 14, "labelOffset": 11, "rowPadding": 5.3, "strokeColor": "#262626", "fillColor": "#ffffff", "labelFont": "Liberation Sans", "labelFontSize": 16.2, "labelColor": "#000000", "symbolSize": 64, "symbolStrokeWidth": 1.2, "cornerRadius": 0},
 "title": {"font": "Liberation Serif", "fontSize": 27, "fontWeight": "normal", "color": "#000000"}
}
}
